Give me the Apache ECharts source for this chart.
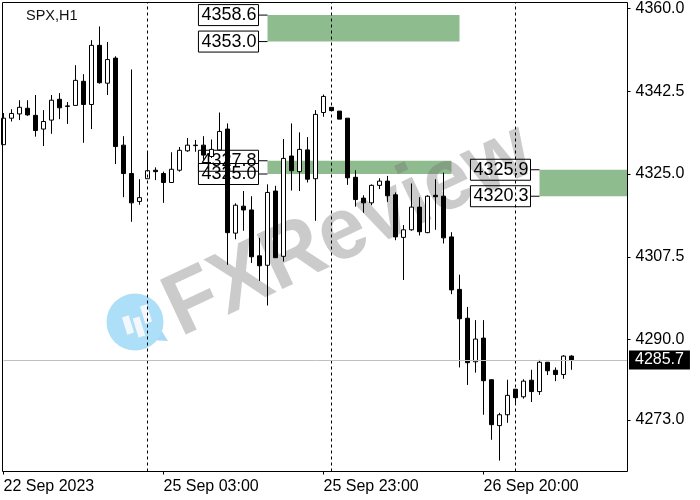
<!DOCTYPE html>
<html><head><meta charset="utf-8">
<style>html,body{margin:0;padding:0;background:#fff}#c{width:700px;height:500px}</style>
<script src="https://cdn.jsdelivr.net/npm/echarts@6/dist/echarts.min.js"></script>
</head><body><div id="c"></div>
<script>
const opens=[4331.2,4336.8,4337.7,4338.9,4337.4,4334.5,4336.4,4340.8,4339.4,4339.5,4344.6,4339.7,4352.2,4344.2,4349.5,4331.1,4325.1,4319.2,4324.0,4325.8,4325.1,4323.2,4325.8,4329.9,4331.1,4331.1,4328.7,4330.1,4334.5,4312.5,4318.2,4317.4,4307.7,4305.7,4321.4,4307.6,4328.8,4325.5,4330.1,4324.0,4338.0,4339.1,4338.3,4336.8,4324.3,4319.9,4318.9,4322.6,4323.5,4320.6,4311.6,4313.2,4318.0,4312.6,4320.5,4320.3,4311.7,4300.6,4294.5,4285.3,4290.3,4281.5,4271.8,4274.1,4279.5,4277.9,4281.4,4279.0,4285.2,4283.5,4282.6,4286.5];
const closes=[4336.8,4337.8,4339.1,4337.5,4334.2,4336.1,4340.6,4339.0,4339.3,4344.8,4339.7,4352.2,4344.3,4349.2,4330.8,4325.1,4318.9,4320.0,4325.7,4325.5,4323.2,4326.0,4330.0,4331.1,4331.0,4329.0,4330.2,4334.0,4312.6,4318.4,4317.4,4307.5,4305.6,4321.1,4307.3,4328.3,4325.7,4330.2,4323.9,4337.6,4341.4,4338.4,4336.6,4324.2,4319.6,4318.9,4322.6,4323.5,4320.4,4311.7,4313.2,4318.0,4312.8,4320.3,4320.2,4311.5,4300.5,4294.4,4285.1,4290.1,4281.3,4272.0,4274.1,4278.2,4277.7,4281.2,4279.0,4285.2,4283.4,4282.6,4286.5,4285.7];
const lows=[4331.2,4336.1,4336.4,4337.3,4332.9,4330.9,4333.5,4336.6,4335.6,4339.5,4331.6,4334.5,4344.1,4341.7,4327.1,4320.1,4314.9,4318.5,4324.0,4323.7,4318.9,4323.2,4325.5,4329.7,4329.7,4328.0,4328.4,4329.9,4305.8,4311.2,4313.0,4306.2,4302.4,4297.2,4307.3,4306.5,4321.5,4321.4,4323.2,4315.1,4337.1,4338.4,4336.6,4322.7,4318.1,4316.8,4318.4,4321.8,4319.1,4311.0,4302.6,4313.0,4312.0,4312.5,4313.2,4310.3,4299.6,4284.1,4280.4,4283.0,4274.1,4268.8,4264.4,4272.4,4276.6,4277.5,4276.8,4278.3,4282.5,4281.2,4281.7,4283.6];
const highs=[4337.9,4338.7,4340.6,4340.6,4341.7,4338.5,4341.7,4342.1,4340.2,4348.0,4346.1,4353.3,4356.2,4352.9,4349.9,4333.0,4347.1,4323.9,4329.5,4326.4,4325.5,4329.6,4330.7,4332.6,4332.2,4333.0,4332.3,4338.0,4335.7,4318.8,4321.4,4320.3,4311.5,4322.8,4322.5,4332.4,4335.7,4333.8,4332.8,4338.5,4341.8,4339.1,4338.3,4336.8,4325.8,4320.5,4322.8,4324.1,4324.6,4321.1,4314.2,4323.0,4320.1,4320.5,4323.9,4325.3,4312.7,4303.7,4296.9,4294.1,4294.1,4281.6,4274.5,4281.5,4279.5,4281.6,4283.6,4285.7,4285.2,4284.1,4286.7,4286.7];
const slotCount=79;
const xTickIndex=[0,20,40,60];
const xTickLabels=['22 Sep 2023','25 Sep 03:00','25 Sep 23:00','26 Sep 20:00'];
const yTicks=[4273,4290,4307.5,4325,4342.5,4360];
const separators=[18,41,64];
const lastPrice=4285.7;
const zones=[[33,57,4358.6,4353.0],[33,56,4327.8,4325.0],[67,78,4325.9,4320.3]];

const categories=[];
for(let i=0;i<slotCount;i++){const t=xTickIndex.indexOf(i);categories.push(t>=0?xTickLabels[t]:String(i));}
const candles=opens.map((o,i)=>[o,closes[i],lows[i],highs[i]]);
const FF='"Liberation Sans"';
const chart=echarts.init(document.getElementById('c'),null,{renderer:'canvas'});
const zoneLabels=[];
zones.forEach(z=>{[z[2],z[3]].forEach(v=>zoneLabels.push({
  coord:[z[0],v],value:v,symbol:'rect',symbolSize:[9,1],symbolOffset:[-4.5,0],
  itemStyle:{color:'#000'},
  label:{show:true,position:'left',distance:0,formatter:p=>p.value.toFixed(1),color:'#000',
    fontFamily:FF,fontSize:18,borderColor:'#000',borderWidth:1,padding:[2,2,1,3],lineHeight:18}
}));});
zoneLabels.push({coord:[slotCount-1,lastPrice],value:lastPrice,symbol:'rect',symbolSize:[1,1],itemStyle:{color:'#000'},
  label:{show:true,position:'right',distance:1,formatter:p=>p.value.toFixed(1),color:'#fff',backgroundColor:'#000',
    fontFamily:FF,fontSize:16,padding:[2,6,1,6],lineHeight:16}});
chart.setOption({
  animation:false,backgroundColor:'#fff',
  title:{text:'SPX,H1',left:26,top:8,padding:0,textStyle:{fontFamily:FF,fontSize:14.5,fontWeight:'normal',color:'#111'}},
  grid:{left:3.5,top:2.5,width:624,height:469,show:false},
  xAxis:{type:'category',data:categories,boundaryGap:false,
    axisLine:{show:false},splitLine:{show:false},
    axisTick:{show:true,length:3,lineStyle:{color:'#000'},interval:(i)=>xTickIndex.includes(i)},
    axisLabel:{show:true,align:'left',margin:7,fontFamily:FF,fontSize:16,color:'#000',interval:(i)=>xTickIndex.includes(i)}},
  yAxis:{type:'value',position:'right',min:4262.1,max:4361.26,scale:true,
    axisLine:{show:false},splitLine:{show:false},
    axisTick:{show:true,length:3,lineStyle:{color:'#000'},customValues:yTicks},
    axisLabel:{show:true,margin:8,fontFamily:FF,fontSize:16,color:'#000',customValues:yTicks,formatter:v=>v.toFixed(1)}},
  graphic:[
    {type:'rect',z:6,silent:true,shape:{x:2.5,y:2.5,width:625,height:469},style:{fill:'none',stroke:'#000',lineWidth:1}},
    {type:'text',z:1,silent:true,x:349,y:231,rotation:0.44,scaleX:0.95,
      style:{text:'FXReview',font:'bold 88px "Liberation Sans"',fill:'rgba(110,110,110,0.36)',textAlign:'center',textVerticalAlign:'middle'}},
    {type:'polygon',z:1,silent:true,shape:{points:[[150,340],[168,341],[158,325]]},style:{fill:'#a9daf5'}},
    {type:'circle',z:1,silent:true,shape:{cx:135,cy:322,r:28.5},style:{fill:'#aedff8'}},
    {type:'rect',z:1,silent:true,x:128,y:325,rotation:0.3,shape:{x:-3.5,y:-9,width:7,height:18},style:{fill:'#f4f8fc'}},
    {type:'rect',z:1,silent:true,x:139,y:327,rotation:0.3,shape:{x:-3.5,y:-10,width:7,height:20},style:{fill:'#f4f8fc'}},
    {type:'rect',z:1,silent:true,x:146,y:314,rotation:0.3,shape:{x:-3.5,y:-9,width:7,height:18},style:{fill:'#f4f8fc'}}
  ],
  series:[{
    type:'candlestick',z:2,data:candles,barWidth:5,clip:true,
    itemStyle:{color:'#fff',color0:'#000',borderColor:'#000',borderColor0:'#000',borderColorDoji:'#000',borderWidth:1},
    markArea:{silent:true,z:0,itemStyle:{color:'#8fbc8f',opacity:1},
      data:zones.map(z=>[{xAxis:z[0],yAxis:z[2]},{xAxis:z[1],yAxis:z[3]}])},
    markLine:{silent:true,z:3,symbol:'none',label:{show:false},precision:1,
      data:separators.map(i=>({xAxis:i,lineStyle:{color:'#000',type:[3,3],width:1}}))
        .concat([{yAxis:lastPrice,lineStyle:{color:'#c0c0c0',type:'solid',width:1}}])},
    markPoint:{silent:true,z:1,data:zoneLabels}
  }]
});
</script></body></html>
